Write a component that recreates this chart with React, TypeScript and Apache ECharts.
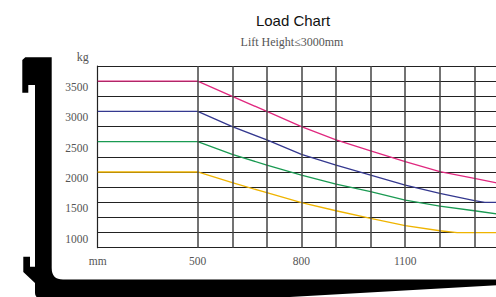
import React, { useEffect, useRef } from "react";
import * as echarts from "echarts";

// ---- data ----
const X_MIN = 211;
const X_MAX = 1400;
const X_STD = [211, 500, 600, 700, 800, 900, 1000, 1100, 1200, 1300, 1400];
const X_BLUE = [211, 500, 600, 700, 800, 900, 1000, 1100, 1200, 1300, 1330, 1400];
const X_ORANGE = [211, 500, 600, 700, 800, 900, 1000, 1100, 1200, 1250, 1400];

const LOAD_3500 = [3500, 3500, 3250, 3000, 2750, 2530, 2350, 2170, 2005, 1895, 1780];
const LOAD_3000 = [3000, 3000, 2750, 2530, 2290, 2115, 1950, 1785, 1648, 1526, 1500, 1500];
const LOAD_2500 = [2500, 2500, 2290, 2115, 1950, 1800, 1675, 1537, 1438, 1360, 1280];
const LOAD_2000 = [2000, 2000, 1823, 1658, 1493, 1360, 1235, 1113, 1030, 1000, 1000];

const VERTICAL_LINES = [500, 600, 700, 800, 900, 1000, 1100, 1200, 1300, 1400];
const X_LABEL_VALUES = [211, 500, 800, 1100];
const Y_LABELS = [1000, 1500, 2000, 2500, 3000, 3500];

const FORK_PATH =
  "M22.3 60 L25.3 57.3 L51.7 57.3 L51.7 268 Q51.7 279.5 63 279.5 L530 279.5 L530 283.5 L272 298 L40 298 Q35 298 35 293 L35 283 L23.3 272 L23.3 256.7 L30 256.7 L30 266.7 L35 266.7 L35 85 L28.3 85 L28.3 92.7 L22.3 92.7 Z";

let registered = false;

const zip = (xs: number[], ys: number[]) => xs.map((x, i) => [x, ys[i]]);

export default function App() {
  const ref = useRef<HTMLDivElement>(null);
  useEffect(() => {
    if (!ref.current) return;
    document.body.style.overflow = "hidden";
    if (!registered) {
      echarts.graphic.registerShape("fork", echarts.graphic.extendPath(FORK_PATH, {}));
      registered = true;
    }
    const chart = echarts.init(ref.current, null, { renderer: "svg" });
    const serif = "Liberation Serif";
    const lineSeries = (name: string, xs: number[], ys: number[], color: string) => ({
      name,
      type: "line",
      data: zip(xs, ys),
      showSymbol: false,
      symbol: "none",
      z: 3,
      lineStyle: { color, width: 1.3 },
      silent: true,
    });
    chart.setOption({
      animation: false,
      grid: { left: 97.7, top: 66, bottom: 49.3, right: 11, containLabel: false },
      graphic: [
        { type: "fork", x: 0, y: 0, style: { fill: "#000" }, silent: true },
        {
          type: "text",
          x: 293,
          y: 20,
          style: {
            text: "Load Chart",
            font: "15px 'Liberation Sans'",
            fill: "#111",
            textAlign: "center",
            textVerticalAlign: "middle",
          },
        },
        {
          type: "text",
          x: 292,
          y: 41.8,
          style: {
            text: "Lift Height≤3000mm",
            font: "12px 'Liberation Serif'",
            fill: "#555",
            textAlign: "center",
            textVerticalAlign: "middle",
          },
        },
      ],
      xAxis: {
        type: "value",
        min: X_MIN,
        max: X_MAX,
        axisLine: { show: true, lineStyle: { color: "#222", width: 1.2 } },
        axisTick: { show: false },
        splitLine: { show: false },
        axisLabel: {
          customValues: X_LABEL_VALUES,
          formatter: (v: number) => (v === X_MIN ? "mm" : String(v)),
          margin: 7,
          color: "#555",
          fontFamily: serif,
          fontSize: 11.5,
        },
      },
      yAxis: {
        type: "value",
        min: 750,
        max: 3750,
        interval: 250,
        name: "kg",
        nameLocation: "end",
        nameGap: 3,
        nameTextStyle: { align: "right", padding: [0, 9, 0, 0], color: "#555", fontFamily: serif, fontSize: 12 },
        axisLine: { show: true, lineStyle: { color: "#222", width: 1.2 } },
        axisTick: { show: false },
        splitLine: { show: true, lineStyle: { color: "#222", width: 1.2 } },
        axisLabel: {
          formatter: (v: number) => (Y_LABELS.includes(v) ? String(v) : ""),
          verticalAlign: "top",
          margin: 9.5,
          color: "#555",
          fontFamily: serif,
          fontSize: 11.5,
        },
      },
      series: [
        {
          type: "line",
          data: [],
          z: 1,
          silent: true,
          markLine: {
            silent: true,
            symbol: ["none", "none"],
            label: { show: false },
            lineStyle: { color: "#444", width: 1.5, type: "solid" },
            data: VERTICAL_LINES.map((v) => ({ xAxis: v })),
          },
        },
        lineSeries("3500", X_STD, LOAD_3500, "#e0287f"),
        lineSeries("3000", X_BLUE, LOAD_3000, "#34388f"),
        lineSeries("2500", X_STD, LOAD_2500, "#1a9a52"),
        lineSeries("2000", X_ORANGE, LOAD_2000, "#efb400"),
      ],
    });
    return () => chart.dispose();
  }, []);
  return (
    <div
      ref={ref}
      style={{ position: "fixed", left: 0, top: 0, width: 520, height: 297, background: "#fff" }}
    />
  );
}
